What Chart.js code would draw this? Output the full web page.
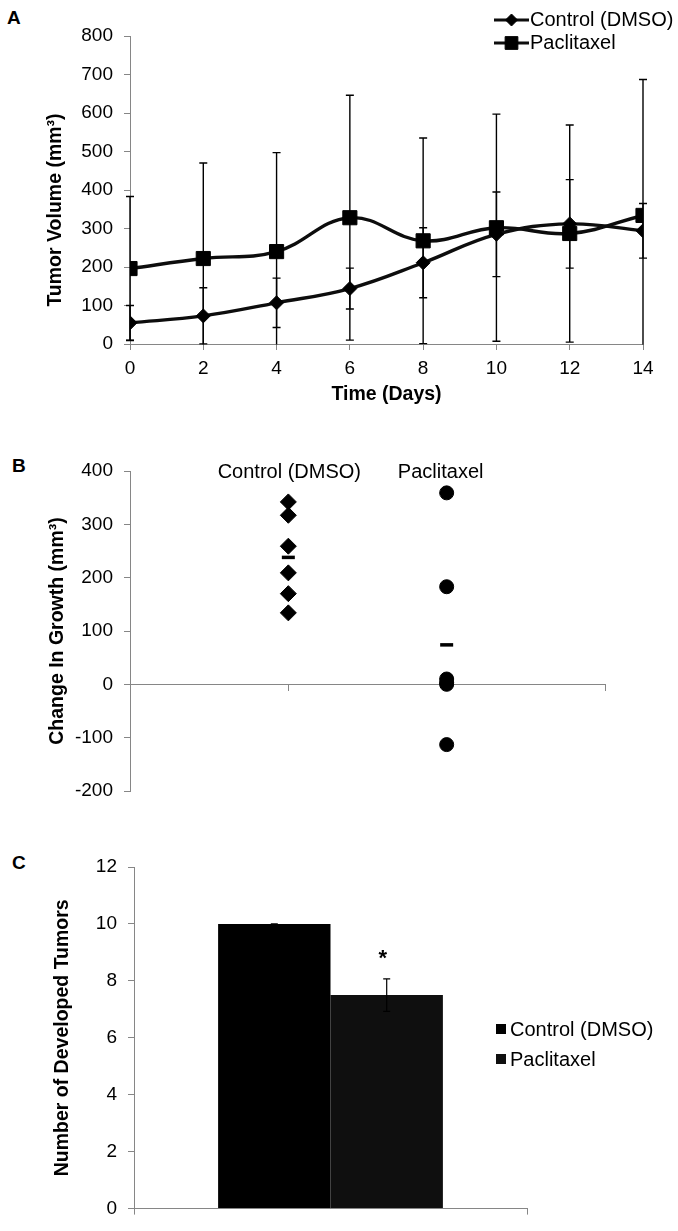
<!DOCTYPE html>
<html>
<head>
<meta charset="utf-8">
<script src="https://cdn.jsdelivr.net/npm/chart.js@4.4.1/dist/chart.umd.min.js"></script>
<style>
  html, body { margin: 0; padding: 0; background: #fff; }
  body { width: 678px; height: 1231px; position: relative; overflow: hidden;
         font-family: 'Liberation Sans', Arial, sans-serif; color: #000; }
  canvas { position: absolute; left: 0; }
  .letter { position: absolute; font-weight: bold; font-size: 19px; line-height: 19px; }
  .legend { position: absolute; font-size: 20px; }
  .legend .row { display: flex; align-items: center; height: 23px; white-space: nowrap; }
  .legend .sq { width: 10px; height: 10px; margin-right: 4px; }
</style>
</head>
<body>
<div class="letter" style="left:7px;top:8px">A</div>
<div class="letter" style="left:12px;top:456px">B</div>
<div class="letter" style="left:12px;top:853px">C</div>

<canvas id="chart-a" width="678" height="410" style="top:0"></canvas>
<canvas id="chart-b" width="678" height="380" style="top:440px"></canvas>
<canvas id="chart-c" width="678" height="391" style="top:840px"></canvas>

<div class="legend" id="legend-a" style="left:494px;top:8px"></div>
<div class="legend" id="legend-c" style="left:496px;top:1014px"></div>

<script>
// panel A - tumor volume over time
const days = [0, 2, 4, 6, 8, 10, 12, 14];
const controlVolume = [55, 73, 107, 144, 211, 285, 312, 294];
const controlVolumeErr = [45, 73, 64, 53, 91, 110, 115, 71];
const paclitaxelVolume = [196, 222, 240, 328, 268, 302, 287, 334];
const paclitaxelVolumeErr = [187, 248, 257, 318, 267, 295, 282, 353];

// panel B - change in growth per animal
const groupNames = ['Control (DMSO)', 'Paclitaxel'];
const controlGrowth = [342, 317, 259, 209, 170, 134];
const paclitaxelGrowth = [359, 183, 10, 3, 0, -113];
const growthMeans = [238, 74];

// panel C - developed tumors
const tumorCategories = [''];
const controlTumors = [10];
const controlTumorsErr = [0];
const paclitaxelTumors = [7.5];
const paclitaxelTumorsErr = [0.57];

const fontFamily = "'Liberation Sans', Arial, sans-serif";
const axisGray = '#868686';
const lineBlack = '#0d0d0d';
const titleFont = { weight: 'bold', size: 19.5 };

Chart.defaults.font.family = fontFamily;
Chart.defaults.font.size = 19;
Chart.defaults.color = '#000';
Chart.defaults.animation = false;
Chart.defaults.plugins.legend.display = false;
Chart.defaults.plugins.tooltip.enabled = false;

const fixWidth = w => s => { s.width = w; };
const fixHeight = h => s => { s.height = h; };

const axisGrid = { drawOnChartArea: false, tickLength: 6, color: axisGray, lineWidth: 1 };
const axisBorder = { color: axisGray, width: 1 };

// vertical error bars, one err array per dataset, clipped to the plot
const errorBars = (id, errs, cap, width, hook) => ({
    id,
    [hook]: chart => {
        const { ctx, chartArea, scales: { y } } = chart;
        ctx.save();
        ctx.beginPath();
        ctx.rect(chartArea.left - 10, chartArea.top - 1, chartArea.width + 20, chartArea.height + 1.5);
        ctx.clip();
        ctx.strokeStyle = '#000';
        ctx.lineWidth = width;
        errs.forEach((err, i) => {
            chart.getDatasetMeta(i).data.forEach((el, j) => {
                const raw = chart.data.datasets[i].data[j];
                const v = typeof raw === 'object' ? raw.y : raw;
                const top = y.getPixelForValue(v + err[j]);
                const bot = y.getPixelForValue(v - err[j]);
                ctx.beginPath();
                ctx.moveTo(el.x, top); ctx.lineTo(el.x, bot);
                ctx.moveTo(el.x - cap, top); ctx.lineTo(el.x + cap, top);
                ctx.moveTo(el.x - cap, bot); ctx.lineTo(el.x + cap, bot);
                ctx.stroke();
            });
        });
        ctx.restore();
    }
});

// ---------- A ----------
// Excel put this title a bit below the axis middle, so it's drawn by hand
const volumeTitle = {
    id: 'volumeTitle',
    afterDraw: chart => {
        const ctx = chart.ctx;
        ctx.save();
        ctx.translate(56, 210);
        ctx.rotate(-Math.PI / 2);
        ctx.font = `bold 19.5px ${fontFamily}`;
        ctx.fillStyle = '#000';
        ctx.textAlign = 'center';
        ctx.textBaseline = 'middle';
        ctx.fillText('Tumor Volume (mm³)', 0, 0);
        ctx.restore();
    }
};

const lineSet = (label, values, style, radius) => ({
    label,
    data: days.map((d, i) => ({ x: d, y: values[i] })),
    borderColor: lineBlack,
    borderWidth: 3.4,
    tension: 0.4,
    pointStyle: style,
    pointRadius: radius,
    pointBackgroundColor: '#000',
    pointBorderColor: '#000',
    pointBorderWidth: 1
});

new Chart(document.getElementById('chart-a'), {
    type: 'line',
    data: {
        datasets: [
            lineSet('Control (DMSO)', controlVolume, 'rectRot', 7),
            lineSet('Paclitaxel', paclitaxelVolume, 'rect', 10)
        ]
    },
    options: {
        responsive: false,
        layout: { padding: { top: 36, right: 35, left: 0, bottom: 0 } },
        scales: {
            x: {
                type: 'linear', min: 0, max: 14,
                ticks: { stepSize: 2, padding: 7 },
                grid: axisGrid, border: axisBorder,
                title: { display: true, text: 'Time (Days)', font: titleFont, padding: { top: 2, bottom: 4 } },
                afterFit: fixHeight(66)
            },
            y: {
                min: 0, max: 800,
                ticks: { stepSize: 100, padding: 11 },
                grid: axisGrid, border: axisBorder,
                afterFit: fixWidth(130)
            }
        }
    },
    plugins: [errorBars('volumeErr', [controlVolumeErr, paclitaxelVolumeErr], 4, 1.4, 'beforeDatasetsDraw'), volumeTitle]
});

// legend A with line + marker swatches
const legendA = document.getElementById('legend-a');
[['Control (DMSO)', 'rectRot', 6], ['Paclitaxel', 'rect', 9]].forEach(([name, style, r]) => {
    const row = legendA.appendChild(document.createElement('div'));
    row.className = 'row';
    const sw = row.appendChild(document.createElement('canvas'));
    sw.width = 35; sw.height = 16;
    sw.style.position = 'static';
    sw.style.marginRight = '1px';
    const c = sw.getContext('2d');
    c.strokeStyle = lineBlack; c.lineWidth = 3;
    c.beginPath(); c.moveTo(0, 8); c.lineTo(35, 8); c.stroke();
    c.fillStyle = '#000'; c.strokeStyle = '#000'; c.lineWidth = 1;
    Chart.helpers.drawPoint(c, { pointStyle: style, radius: r, borderWidth: 1, rotation: 0 }, 17.5, 8);
    row.appendChild(document.createElement('span')).innerText = name;
});

// ---------- B ----------
const groupLabels = {
    id: 'groupLabels',
    afterDraw: chart => {
        const { ctx, chartArea, scales: { x } } = chart;
        ctx.save();
        ctx.font = `20px ${fontFamily}`;
        ctx.fillStyle = '#000';
        ctx.textAlign = 'center';
        ctx.textBaseline = 'middle';
        groupNames.forEach((n, i) => ctx.fillText(n, x.getPixelForValue(i + 1) + 1 - i * 7, chartArea.top + 1));
        ctx.restore();
    }
};

new Chart(document.getElementById('chart-b'), {
    type: 'scatter',
    data: {
        datasets: [
            {
                label: groupNames[0],
                data: controlGrowth.map(v => ({ x: 1, y: v })),
                pointStyle: 'rectRot', pointRadius: 8,
                backgroundColor: '#000', borderColor: '#000', borderWidth: 1
            },
            {
                label: groupNames[1],
                data: paclitaxelGrowth.map(v => ({ x: 2, y: v })),
                pointStyle: 'circle', pointRadius: 7,
                backgroundColor: '#000', borderColor: '#000', borderWidth: 1
            },
            {
                label: 'Mean',
                data: growthMeans.map((v, i) => ({ x: i + 1, y: v })),
                pointStyle: 'line', pointRadius: 6.5,
                borderColor: '#000', borderWidth: 3.5
            }
        ]
    },
    options: {
        responsive: false,
        layout: { padding: { top: 31, right: 73, left: 0, bottom: 29 } },
        scales: {
            x: {
                type: 'linear', min: 0, max: 3,
                position: { y: 0 },
                ticks: { stepSize: 1, display: false },
                grid: axisGrid, border: axisBorder,
                afterFit: fixHeight(0)
            },
            y: {
                min: -200, max: 400,
                ticks: { stepSize: 100, padding: 11 },
                grid: axisGrid, border: axisBorder,
                title: { display: true, text: 'Change In Growth (mm³)', font: titleFont, padding: { top: 46, bottom: 0 } },
                afterFit: fixWidth(130)
            }
        }
    },
    plugins: [groupLabels]
});

// ---------- C ----------
const starMark = {
    id: 'starMark',
    afterDraw: chart => {
        const { ctx, scales: { y } } = chart;
        const bar = chart.getDatasetMeta(1).data[0];
        ctx.save();
        ctx.font = `bold 22px ${fontFamily}`;
        ctx.fillStyle = '#000';
        ctx.textAlign = 'center';
        ctx.textBaseline = 'middle';
        ctx.fillText('*', bar.x - 4, y.getPixelForValue(paclitaxelTumors[0] + paclitaxelTumorsErr[0]) - 20);
        ctx.restore();
    }
};

new Chart(document.getElementById('chart-c'), {
    type: 'bar',
    data: {
        labels: tumorCategories,
        datasets: [
            { label: 'Control (DMSO)', data: controlTumors, backgroundColor: '#000' },
            { label: 'Paclitaxel', data: paclitaxelTumors, backgroundColor: '#0f0f0f' }
        ]
    },
    options: {
        responsive: false,
        layout: { padding: { top: 27, right: 151, left: 0, bottom: 13 } },
        datasets: { bar: { categoryPercentage: 0.572, barPercentage: 1 } },
        scales: {
            x: {
                offset: true,
                ticks: { display: false },
                grid: { ...axisGrid, offset: true }, border: axisBorder,
                afterFit: fixHeight(0)
            },
            y: {
                min: 0, max: 12,
                ticks: { stepSize: 2, padding: 11 },
                grid: axisGrid, border: axisBorder,
                title: { display: true, text: 'Number of Developed Tumors', font: titleFont, padding: { top: 51, bottom: 0 } },
                afterFit: fixWidth(134)
            }
        }
    },
    plugins: [errorBars('tumorErr', [controlTumorsErr, paclitaxelTumorsErr], 3.5, 1.2, 'afterDatasetsDraw'), starMark]
});

const legendC = document.getElementById('legend-c');
[['Control (DMSO)', '#000'], ['Paclitaxel', '#0f0f0f']].forEach(([name, color]) => {
    const row = legendC.appendChild(document.createElement('div'));
    row.className = 'row';
    row.style.height = '30px';
    const sq = row.appendChild(document.createElement('div'));
    sq.className = 'sq';
    sq.style.background = color;
    row.appendChild(document.createElement('span')).innerText = name;
});
</script>
</body>
</html>
